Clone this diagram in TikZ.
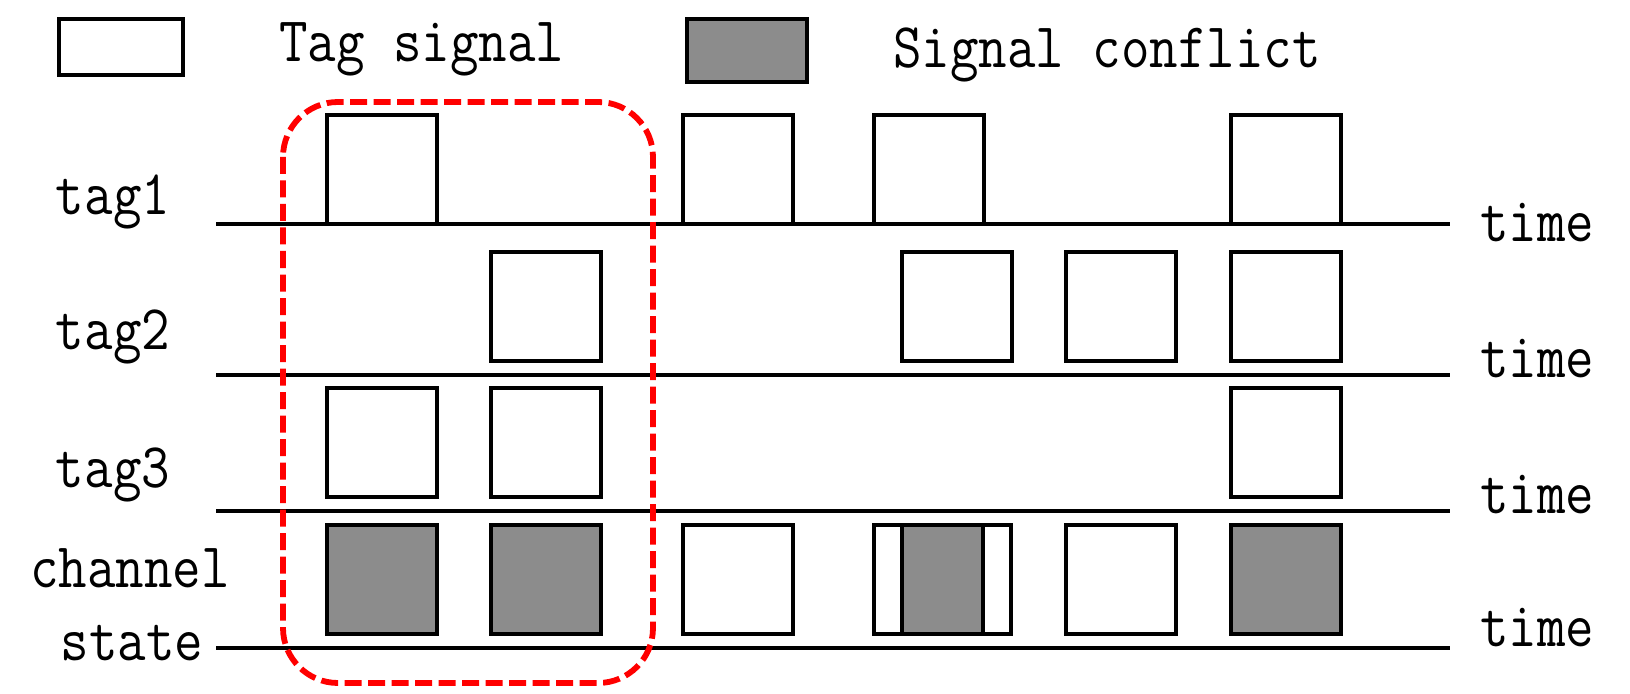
\documentclass[tikz,border=0pt]{standalone}
\usepackage{fontspec}
\usepackage{tikz}
\usetikzlibrary{positioning}
\definecolor{clashgray}{RGB}{140,140,140}
\newcommand{\tall}[1]{\scalebox{1}[1.15]{#1}}

\begin{document}
\begin{tikzpicture}[
  x=0.2mm, y=-0.2mm,
  font=\ttfamily\fontsize{31.5}{36}\selectfont,
  sig/.style={draw, line width=1.9pt, fill=white, inner sep=0pt, outer sep=0pt, minimum width=22mm, minimum height=21.8mm, anchor=south west},
  clash/.style={sig, fill=clashgray},
  axis/.style={line width=1.9pt},
  lbl/.style={anchor=base, inner sep=0pt},
  tlbl/.style={anchor=base west, inner sep=0pt},
  hilite/.style={draw=red, line width=3.3pt, dash pattern=on 3.4mm off 1.3mm, rounded corners=11mm}
]
\useasboundingbox (0,0) rectangle (1630,694);
% legend
\node[sig, minimum width=24.8mm, minimum height=11.2mm, anchor=north west] (legsig) at (59,19) {};
\node[tlbl] (legsigtxt) at (279,62) {\tall{Tag signal}};
\node[clash, minimum width=24mm, minimum height=12.6mm, anchor=north west] (legclash) at (687,19) {};
\node[tlbl] (legclashtxt) at (893,68) {\tall{Signal conflict}};
% time axes
\foreach \n/\y in {1/224,2/375,3/511,4/648} {
  \coordinate (l\n) at (216,\y);
  \coordinate (r\n) at (1450,\y);
  \draw[axis] (l\n) -- (r\n);
}
\node[tlbl] (time1) at (1480,242) {\tall{time}};
\node[tlbl] (time2) at (1480,377) {\tall{time}};
\node[tlbl] (time3) at (1480,513) {\tall{time}};
\node[tlbl] (time4) at (1480,646) {\tall{time}};
% row labels
\node[lbl] (tag1) at (113,215) {\tall{tag1}};
\node[lbl] (tag2) at (113,350) {\tall{tag2}};
\node[lbl] (tag3) at (113,487) {\tall{tag3}};
\node[lbl] (chan) at (130,587) {\tall{channel}};
\node[lbl] (state) at (132,660) {\tall{state}};
% tag signals
\foreach \c/\x in {a/327,c/683,d/874,f/1231} \node[sig] (t1\c) at (\x,224) {};
\foreach \c/\x in {b/491,dp/902,e/1066,f/1231} \node[sig] (t2\c) at (\x,361) {};
\foreach \c/\x in {a/327,b/491,f/1231} \node[sig] (t3\c) at (\x,497) {};
% channel state
\node[clash] (cha) at (327,634) {};
\node[clash] (chb) at (491,634) {};
\node[sig] (chc) at (683,634) {};
\node[sig, minimum width=27.4mm] (chd) at (874,634) {};
\node[clash, minimum width=16.2mm] (chdp) at (902,634) {};
\node[sig] (che) at (1066,634) {};
\node[clash] (chf) at (1231,634) {};
% conflict window
\draw[hilite] (283,102) rectangle (653,683);
\end{tikzpicture}
\end{document}
